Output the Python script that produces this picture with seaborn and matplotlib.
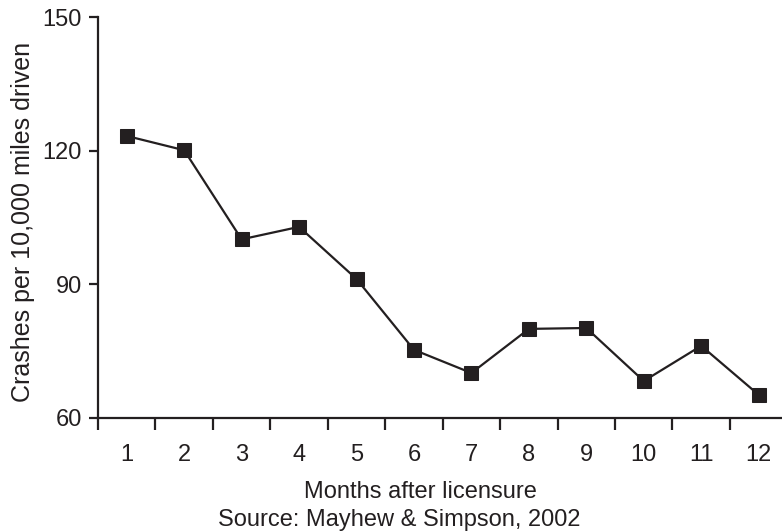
import matplotlib
matplotlib.use("Agg")
import matplotlib.pyplot as plt
import seaborn as sns
import numpy as np
import pandas as pd
from matplotlib.ticker import FixedLocator

months = [1, 2, 3, 4, 5, 6, 7, 8, 9, 10, 11, 12]
crashes = [123.3, 120.1, 100.1, 102.9, 91.2, 75.3, 70.1, 80.0, 80.2, 68.3, 76.2, 65.2]
y_ticks = [60, 90, 120, 150]
x_labels = [str(m) for m in months]

sns.set_style("white")
plt.rcParams['font.family'] = ['Liberation Sans', 'DejaVu Sans']
ink = '#231f20'

df = pd.DataFrame({"month": months, "crashes": crashes})

fig = plt.figure(figsize=(7.82, 5.32), dpi=100)
W, H = 782, 532
left, right, top, bottom = 98, 787.4, 17, 418
ax = fig.add_axes([left / W, 1 - bottom / H, (right - left) / W, (bottom - top) / H])

sns.lineplot(data=df, x="month", y="crashes", ax=ax, color=ink, linewidth=1.6,
             marker='s', markersize=10.5, markeredgecolor=ink, markerfacecolor=ink)

ax.set_xlim(0.5, 12.5)
ax.set_ylim(60, 150)
ax.set_yticks(y_ticks)
ax.set_yticklabels([str(v) for v in y_ticks])
ax.set_xticks(months)
ax.set_xticklabels(x_labels)
ax.xaxis.set_minor_locator(FixedLocator([m - 0.5 for m in months]))

for s in ['top', 'right']:
    ax.spines[s].set_visible(False)
for s in ['left', 'bottom']:
    ax.spines[s].set_color(ink)
    ax.spines[s].set_linewidth(1.6)

ax.tick_params(axis='y', which='major', direction='out', length=6.5, width=1.6,
               color=ink, labelsize=17, labelcolor=ink, pad=5, left=True)
ax.tick_params(axis='x', which='major', length=0, labelsize=17, labelcolor=ink, pad=19)
ax.tick_params(axis='x', which='minor', direction='out', length=8.6, width=1.6,
               color=ink, bottom=True)

ax.set_xlabel("")
ax.set_ylabel("Crashes per 10,000 miles driven", fontsize=18, color=ink)
ax.yaxis.set_label_coords(-0.0914, 0.489)

fig.text(420 / W, 1 - 498 / H, "Months after licensure", fontsize=17, color=ink,
         ha='center', va='baseline')
fig.text(399 / W, 1 - 526 / H, "Source: Mayhew & Simpson, 2002", fontsize=17, color=ink,
         ha='center', va='baseline')

ax.grid(False)
fig.savefig("out.png", dpi=100)
